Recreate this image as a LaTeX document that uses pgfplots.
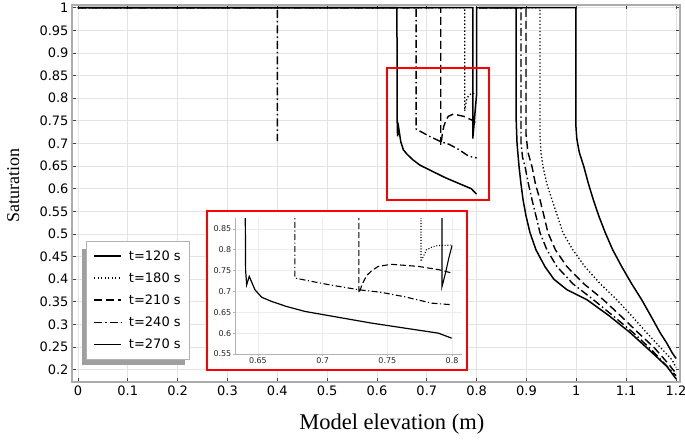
\documentclass[border=0pt]{standalone}
\usepackage{fontspec}
\setmainfont{Liberation Serif}
\newfontfamily\dejavu{DejaVu Sans}
\usepackage{pgfplots}
\usepackage{pgfplotstable}
\pgfplotsset{compat=1.18}
\usetikzlibrary{calc}

% t = 120 s (solid)
\pgfplotstableread{
x y
0 1
0.7922 1
0.7922 0.711
0.795 0.745
0.7975 0.78
0.8 0.81
0.8 1
0.999 1
0.999 0.74
1.001 0.71
1.006 0.68
1.015 0.649
1.024 0.612
1.034 0.576
1.045 0.54
1.058 0.503
1.073 0.465
1.091 0.428
1.111 0.39
1.131 0.355
1.150 0.318
1.168 0.282
1.182 0.258
1.192 0.238
1.2 0.225
}\tA
% t = 120 s, part seen in the inset
\pgfplotstableread{
x y
0.7922 1
0.7922 0.711
0.795 0.745
0.7975 0.78
0.8 0.81
}\tAi
% t = 180 s (dotted)
\pgfplotstableread{
x y
0 1
0.776 1
0.776 0.772
0.7804 0.8
0.785 0.807
0.789 0.81
0.8 0.811
0.8 nan
0.805 1
0.927 1
0.927 0.72
0.929 0.68
0.933 0.649
0.941 0.61
0.951 0.576
0.962 0.54
0.973 0.503
0.993 0.465
1.017 0.428
1.048 0.39
1.081 0.355
1.112 0.318
1.141 0.282
1.168 0.25
1.192 0.222
1.2 0.205
}\tB
% t = 210 s (dashed)
\pgfplotstableread{
x y
0 1
0.728 1
0.728 0.696
0.731 0.72
0.734 0.738
0.738 0.75
0.743 0.76
0.753 0.765
0.774 0.76
0.79 0.752
0.8 0.744
0.8 nan
0.805 1
0.899 1
0.899 0.72
0.903 0.68
0.911 0.649
0.918 0.61
0.927 0.576
0.935 0.54
0.943 0.503
0.958 0.465
0.981 0.428
1.015 0.39
1.054 0.355
1.090 0.318
1.124 0.282
1.157 0.248
1.184 0.214
1.2 0.192
}\tC
% t = 240 s (dash-dot)
\pgfplotstableread{
x y
0 1
0.4 1
0.4 0.705
0.4 nan
0.401 1
0.6786 1
0.6786 0.732
0.69 0.725
0.705 0.716
0.728 0.704
0.745 0.698
0.7636 0.687
0.784 0.672
0.8 0.668
0.8 nan
0.805 1
0.889 1
0.889 0.7
0.892 0.67
0.897 0.649
0.904 0.61
0.911 0.576
0.919 0.54
0.927 0.503
0.941 0.465
0.961 0.428
0.993 0.39
1.034 0.355
1.075 0.318
1.114 0.282
1.150 0.245
1.180 0.21
1.2 0.187
}\tD
% t = 270 s (solid)
\pgfplotstableread{
x y
0 1
0.64 1
0.6405 0.75
0.6413 0.716
0.6433 0.736
0.6477 0.704
0.6529 0.686
0.6606 0.676
0.672 0.664
0.6864 0.652
0.7121 0.638
0.7379 0.624
0.7636 0.612
0.7894 0.6
0.7997 0.588
0.7997 nan
0.805 1
0.879 1
0.879 0.76
0.881 0.7
0.885 0.649
0.889 0.61
0.893 0.576
0.899 0.54
0.907 0.503
0.919 0.465
0.937 0.428
0.955 0.4
0.981 0.377
1.021 0.355
1.065 0.32
1.108 0.282
1.150 0.24
1.182 0.207
1.2 0.18
}\tE

\pgfplotsset{
  sA/.style={black, line width=1.5pt},
  sB/.style={black, line width=1.3pt, dash pattern=on 1.3pt off 2.2pt},
  sC/.style={black, line width=1.4pt, dash pattern=on 8pt off 4pt},
  sD/.style={black, line width=1.4pt, dash pattern=on 8pt off 3pt on 1.5pt off 3pt},
  sE/.style={black, line width=1.5pt},
}

\begin{document}
\begin{tikzpicture}[x=1pt,y=1pt]
\useasboundingbox (0,0) rectangle (685,440);
\begin{axis}[
  at={(72pt,58pt)}, anchor=south west,
  width=608pt, height=377pt, scale only axis,
  xmin=-0.012, xmax=1.208, ymin=0.173, ymax=1.006,
  xtick={0,0.1,0.2,0.3,0.4,0.5,0.6,0.7,0.8,0.9,1,1.1,1.2},
  ytick={0.2,0.25,0.3,0.35,0.4,0.45,0.5,0.55,0.6,0.65,0.7,0.75,0.8,0.85,0.9,0.95,1},
  grid=major, major grid style={gray!22, line width=0.9pt},
  tick align=inside, major tick length=4pt,
  tick style={gray!50!black, line width=0.8pt},
  axis line style={gray!65, line width=1.2pt},
  tick label style={font=\dejavu\fontsize{13}{13}\selectfont, /pgf/number format/assume math mode=true},
  xlabel={Model elevation (m)}, ylabel={Saturation},
  xlabel style={font=\fontsize{22.5}{24}\selectfont, at={(axis description cs:0.526,-0.127)}, anchor=base},
  ylabel style={font=\fontsize{18}{20}\selectfont, at={(axis description cs:-0.087,0.5225)}, anchor=base},
  unbounded coords=jump,
  legend cell align=left,
  legend image code/.code={\draw[#1, line width=1.6pt] (0pt,0pt) -- (27pt,0pt);},
  legend style={name=leg, at={(0.023,0.374)}, anchor=north west,
    font=\dejavu\fontsize{13}{13}\selectfont,
    draw=gray!60, line width=0.8pt, fill=white,
    inner xsep=7pt, inner ysep=7pt, row sep=7pt, column sep=5pt},
]
\addplot[sA] table[x=x,y=y] {\tA};
\addlegendentry{t=120 s}
\addplot[sB] table[x=x,y=y] {\tB};
\addlegendentry{t=180 s}
\addplot[sC] table[x=x,y=y] {\tC};
\addlegendentry{t=210 s}
\addplot[sD] table[x=x,y=y] {\tD};
\addlegendentry{t=240 s}
\addplot[sE] table[x=x,y=y] {\tE};
\addlegendentry{t=270 s}
\end{axis}

% legend shadow (left and bottom)
\fill[gray!75] ($(leg.north west)+(-4pt,-8pt)$) rectangle ($(leg.south west)+(-0.4pt,-5pt)$);
\fill[gray!75] ($(leg.south west)+(-4pt,-0.4pt)$) rectangle ($(leg.south east)+(-5pt,-5pt)$);

\fill[white] (207,70) rectangle (467,229);

\begin{axis}[
  at={(235pt,86pt)}, anchor=south west,
  width=227pt, height=136pt, scale only axis,
  xmin=0.6323, xmax=0.8077, ymin=0.55, ymax=0.876,
  xtick={0.65,0.7,0.75,0.8},
  ytick={0.55,0.6,0.65,0.7,0.75,0.8,0.85},
  axis lines*=left, axis line style={gray!60, line width=0.6pt},
  grid=major, major grid style={gray!15, line width=0.5pt},
  tick align=outside, major tick length=2pt,
  tick style={gray!60, line width=0.5pt},
  tick label style={font=\dejavu\fontsize{8}{8}\selectfont, text=gray!30!black, inner sep=1.5pt, /pgf/number format/assume math mode=true},
  unbounded coords=jump,
]
\addplot[black, line width=1.1pt] table[x=x,y=y] {\tAi};
\addplot[black, line width=1.1pt, dash pattern=on 1pt off 1.8pt] table[x=x,y=y] {\tB};
\addplot[black, line width=1.1pt, dash pattern=on 6pt off 3pt] table[x=x,y=y] {\tC};
\addplot[black, line width=1.1pt, dash pattern=on 6pt off 2.5pt on 1.2pt off 2.5pt] table[x=x,y=y] {\tD};
\addplot[black, line width=1.2pt] table[x=x,y=y] {\tE};
\end{axis}

\draw[red, line width=1.5pt] (207,70) rectangle (467,229);
\draw[red, line width=1.5pt] (387,240) rectangle (489,372);
\end{tikzpicture}
\end{document}
